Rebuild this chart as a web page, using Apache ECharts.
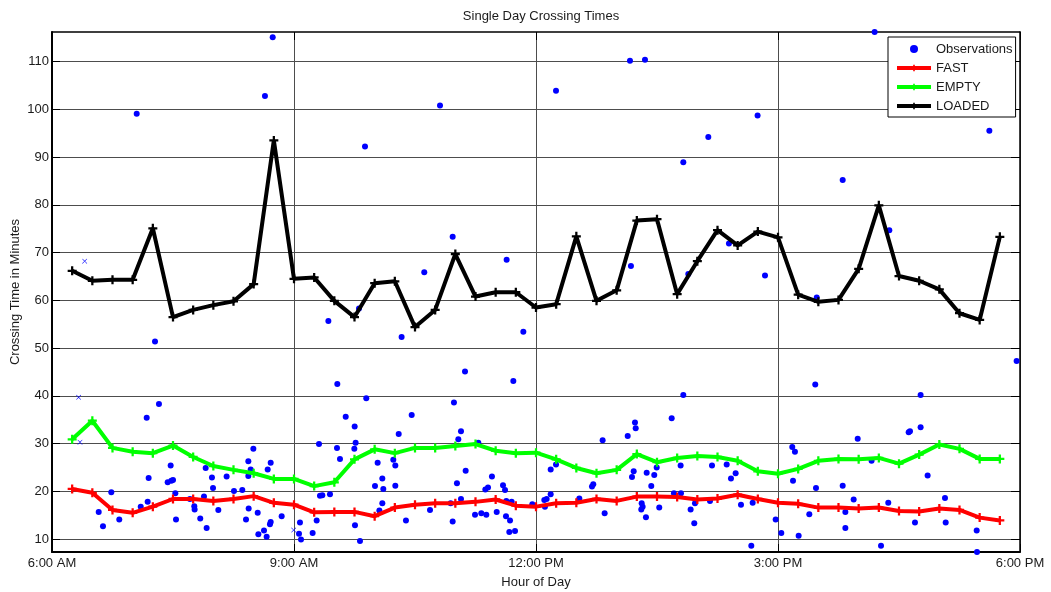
<!DOCTYPE html>
<html>
<head>
<meta charset="utf-8">
<script src="https://cdn.jsdelivr.net/npm/echarts@6/dist/echarts.min.js"></script>
<style>html,body{margin:0;padding:0;background:#fff;}#c{width:1051px;height:592px;}</style>
</head>
<body>
<div id="c"></div>
<script>
// ---- data ----
const xTickHours = [6, 9, 12, 15, 18];
const xTickLabels = ['6:00 AM', '9:00 AM', '12:00 PM', '3:00 PM', '6:00 PM'];
const yTicks = [10, 20, 30, 40, 50, 60, 70, 80, 90, 100, 110];

const binHours = [6.25, 6.5, 6.75, 7, 7.25, 7.5, 7.75, 8, 8.25, 8.5, 8.75, 9, 9.25, 9.5, 9.75, 10,
  10.25, 10.5, 10.75, 11, 11.25, 11.5, 11.75, 12, 12.25, 12.5, 12.75, 13, 13.25, 13.5, 13.75, 14,
  14.25, 14.5, 14.75, 15, 15.25, 15.5, 15.75, 16, 16.25, 16.5, 16.75, 17, 17.25, 17.5, 17.75];

const fastValues = [20.5, 19.7, 16.1, 15.5, 16.8, 18.4, 18.4, 18.0, 18.4, 19.0, 17.6, 17.2, 15.6, 15.7, 15.7, 14.8,
  16.6, 17.2, 17.5, 17.5, 17.8, 18.3, 17.0, 16.8, 17.5, 17.6, 18.4, 18.0, 18.9, 18.9, 18.8, 18.3,
  18.5, 19.3, 18.4, 17.6, 17.4, 16.6, 16.6, 16.4, 16.6, 15.9, 15.8, 16.4, 16.1, 14.5, 13.9];

const emptyValues = [30.9, 34.8, 29.1, 28.3, 28.0, 29.6, 27.2, 25.3, 24.5, 23.8, 22.6, 22.6, 21.1, 21.9, 26.7, 28.8,
  28.0, 29.1, 29.1, 29.5, 29.9, 28.5, 28.0, 28.1, 26.7, 24.9, 23.8, 24.5, 27.8, 26.1, 27.0, 27.4,
  27.2, 26.4, 24.2, 23.7, 24.7, 26.4, 26.8, 26.7, 27.0, 25.8, 27.7, 29.8, 28.9, 26.8, 26.8];

const loadedValues = [66.2, 64.1, 64.3, 64.3, 75.1, 56.5, 58.0, 59.0, 59.8, 63.4, 93.5, 64.5, 64.8, 59.9, 56.5, 63.6,
  64.0, 54.4, 58.0, 69.7, 60.8, 61.7, 61.7, 58.5, 59.2, 73.4, 59.9, 62.1, 76.7, 77.0, 61.3, 68.2,
  74.7, 71.5, 74.4, 73.2, 61.2, 59.7, 60.1, 66.6, 79.9, 65.1, 64.1, 62.3, 57.3, 55.9, 73.3];

const obsHours = [7.05, 8.64, 8.736, 7.277, 6.579, 6.632, 6.735, 6.834, 7.1, 7.174, 7.198, 7.186, 7.326, 7.434, 7.471, 7.479, 7.5,
  7.529, 7.537, 7.71, 7.764, 7.768, 7.838, 7.884, 7.905, 7.917, 7.983, 7.996, 8.062, 8.165, 8.256, 8.359, 8.405,
  8.434, 8.438, 8.463, 8.434, 8.496, 8.55, 8.558, 8.628, 8.661, 8.674, 8.711, 8.702, 8.711, 8.847, 9.074, 9.062,
  9.087, 9.231, 9.281, 9.31, 9.322, 9.351, 9.446, 9.537, 9.533, 9.57, 9.641, 9.752, 9.764, 9.748, 9.756, 9.818,
  9.896, 10.004, 10.037, 10.095, 10.107, 10.095, 10.058, 10.231, 10.256, 10.256, 10.298, 10.388, 10.459, 10.686,
  10.967, 10.942, 10.983, 11.037, 11.07, 11.02, 11.07, 11.128, 11.285, 11.244, 11.322, 11.384, 11.372, 11.405,
  11.454, 11.513, 11.591, 11.616, 11.632, 11.698, 11.628, 11.678, 11.669, 11.74, 11.719, 11.954, 12.103, 12.132,
  12.182, 12.111, 12.182, 12.248, 12.537, 10.967, 10.615, 11.636, 9.806, 9.426, 10.334, 11.843, 11.12, 9.88,
  10.81, 12.248, 13.165, 13.351, 14.747, 14.136, 13.826, 15.802, 13.177, 13.888, 14.392, 14.839, 15.48, 13.826,
  15.462, 16.198, 17.62, 16.38, 17.958, 16.768, 12.826, 12.694, 12.71, 12.851, 13.137, 13.227, 13.236, 13.211,
  13.19, 13.31, 13.322, 13.305, 13.363, 13.372, 13.466, 13.496, 13.429, 13.528, 13.682, 13.71, 13.797, 13.793,
  13.917, 13.971, 13.962, 14.157, 14.182, 14.364, 14.417, 14.475, 14.541, 14.669, 14.686, 14.971, 15.041, 15.177,
  15.21, 15.186, 15.256, 15.388, 15.471, 15.802, 15.835, 15.835, 15.938, 15.988, 16.16, 16.277, 16.367, 16.62,
  16.636, 16.768, 16.698, 16.855, 17.07, 17.079, 17.463, 17.467];
const obsValues = [99.1, 102.8, 115.1, 51.4, 15.7, 12.7, 19.8, 14.1, 16.8, 35.4, 22.8, 17.8, 38.3, 21.9, 25.4, 22.2, 22.4,
  19.6, 14.1, 18.4, 16.9, 16.2, 14.3, 18.9, 24.9, 12.3, 22.9, 20.7, 16.1, 23.1, 20.1, 20.3, 14.1,
  26.3, 16.4, 24.6, 23.2, 28.9, 15.5, 11.0, 11.8, 10.5, 24.6, 26.0, 13.1, 13.6, 14.8, 13.5, 11.1,
  9.9, 11.3, 13.9, 29.9, 19.1, 19.2, 19.4, 42.5, 29.1, 26.8, 35.6, 33.6, 30.2, 28.9, 12.9, 9.6,
  39.5, 21.1, 26.0, 22.7, 20.5, 17.5, 16.0, 26.6, 25.4, 21.2, 32.0, 13.9, 36.0, 16.1,
  13.7, 17.5, 38.6, 30.9, 32.6, 21.7, 18.4, 24.3, 30.2, 15.1, 15.4, 15.1, 20.4, 20.8,
  23.1, 15.7, 21.3, 20.3, 18.0, 17.8, 14.8, 13.9, 11.5, 11.7, 43.1, 17.3, 18.2, 18.4,
  19.4, 16.8, 24.6, 25.6, 18.5, 73.3, 65.9, 68.5, 58.3, 55.7, 52.3, 53.4, 45.1, 92.2,
  100.8, 103.9, 110.2, 110.4, 98.7, 94.2, 88.9, 85.2, 67.2, 65.5, 71.9, 65.2, 60.6, 40.2,
  42.4, 116.2, 95.5, 74.7, 47.3, 40.2, 30.7, 21.0, 21.5, 15.4, 31.6, 34.4, 33.2, 24.2,
  23.0, 17.5, 16.8, 16.2, 14.6, 23.9, 23.4, 25.0, 21.1, 16.6, 35.3, 19.6, 19.6, 25.4,
  16.2, 17.5, 13.3, 18.0, 25.4, 25.6, 22.7, 23.8, 17.2, 8.6, 17.6, 14.1, 11.3, 29.3,
  28.3, 22.2, 10.7, 15.2, 20.7, 21.2, 15.7, 12.3, 18.3, 31.0, 26.4, 8.6, 17.6, 32.4,
  32.6, 33.4, 13.5, 23.3, 18.6, 13.5, 11.8, 7.3];

const outlierHours = [6.405, 6.33, 6.347, 8.996];
const outlierValues = [68.2, 39.7, 30.3, 11.9];

// ---- chart ----
const zip = (a, b) => a.map((v, i) => [v, b[i]]);
const FONT = '"Liberation Sans", Arial, sans-serif';
const TXT = '#1a1a1a';
const plusSym = 'path://M-1,-4H1V-1H4V1H1V4H-1V1H-4V-1H-1Z';
const xSym = 'path://M0,0.8L0.8,0L5,4.2L9.2,0L10,0.8L5.8,5L10,9.2L9.2,10L5,5.8L0.8,10L0,9.2L4.2,5Z';
const yMin = 7.3, yMax = 116.2;
const fmtX = v => { const i = xTickHours.indexOf(v); return i >= 0 ? xTickLabels[i] : ''; };

const chart = echarts.init(document.getElementById('c'), null, {renderer: 'canvas'});
chart.setOption({
  animation: false,
  backgroundColor: '#fff',
  textStyle: {fontFamily: FONT},
  title: {
    text: 'Single Day Crossing Times', left: 536, top: 5, textAlign: 'center',
    textStyle: {fontSize: 13, fontWeight: 'normal', color: TXT, fontFamily: FONT}
  },
  grid: {left: 52, right: 31, top: 32, bottom: 40, containLabel: false, outerBoundsMode: 'none'},
  legend: {
    orient: 'vertical', left: 888, top: 37, padding: [5, 3, 4, 7], itemGap: 5,
    itemWidth: 34, itemHeight: 8,
    borderColor: '#000', borderWidth: 1, backgroundColor: '#fff',
    textStyle: {fontSize: 13, color: TXT, fontFamily: FONT, lineHeight: 14},
    lineStyle: {width: 4},
    data: [
      {name: 'Observations', icon: 'circle'},
      {name: 'FAST'}, {name: 'EMPTY'}, {name: 'LOADED'}
    ]
  },
  xAxis: [{
    type: 'value', min: 6, max: 18, interval: 3,
    name: 'Hour of Day', nameLocation: 'middle', nameGap: 24, nameMoveOverlap: false,
    nameTextStyle: {fontSize: 13, color: TXT, fontFamily: FONT},
    axisLine: {lineStyle: {color: '#000', width: 2}},
    axisTick: {inside: true, length: 8, lineStyle: {color: '#000'}},
    axisLabel: {formatter: fmtX, fontSize: 13, color: TXT, margin: 5, fontFamily: FONT},
    splitLine: {show: true, lineStyle: {color: '#4d4d4d', width: 1}}
  }, {
    type: 'value', min: 6, max: 18, interval: 3, position: 'top',
    axisLine: {lineStyle: {color: '#000', width: 1.5}},
    axisTick: {inside: true, length: 8, lineStyle: {color: '#000'}},
    axisLabel: {show: false}, splitLine: {show: false}
  }],
  yAxis: [{
    type: 'value', min: yMin, max: yMax,
    name: 'Crossing Time in Minutes', nameLocation: 'middle', nameGap: 30, nameMoveOverlap: false,
    nameTextStyle: {fontSize: 13, color: TXT, fontFamily: FONT},
    axisLine: {show: true, lineStyle: {color: '#000', width: 2}},
    axisTick: {show: true, inside: true, length: 8, customValues: yTicks, lineStyle: {color: '#000'}},
    axisLabel: {customValues: yTicks, fontSize: 13, color: TXT, margin: 3, fontFamily: FONT},
    splitLine: {show: true, lineStyle: {color: '#4d4d4d', width: 1}}
  }, {
    type: 'value', min: yMin, max: yMax, position: 'right',
    axisLine: {show: true, lineStyle: {color: '#000', width: 1.5}},
    axisTick: {show: true, inside: true, length: 9, customValues: yTicks, lineStyle: {color: '#000'}},
    axisLabel: {show: false}, splitLine: {show: false}
  }],
  series: [{
    name: 'Observations', type: 'scatter', data: zip(obsHours, obsValues),
    symbol: 'circle', symbolSize: 6, itemStyle: {color: '#0000ff', opacity: 1}, z: 2
  }, {
    name: 'Outliers', type: 'scatter', data: zip(outlierHours, outlierValues),
    symbol: xSym, symbolSize: 5, itemStyle: {color: '#0000ff', opacity: 1}, z: 2
  }, {
    name: 'FAST', type: 'line', data: zip(binHours, fastValues),
    symbol: plusSym, symbolSize: 9, showAllSymbol: true,
    lineStyle: {color: '#ff0000', width: 4}, itemStyle: {color: '#ff0000'}, z: 3
  }, {
    name: 'EMPTY', type: 'line', data: zip(binHours, emptyValues),
    symbol: plusSym, symbolSize: 9, showAllSymbol: true,
    lineStyle: {color: '#00ff00', width: 4}, itemStyle: {color: '#00ff00'}, z: 3
  }, {
    name: 'LOADED', type: 'line', data: zip(binHours, loadedValues),
    symbol: plusSym, symbolSize: 9, showAllSymbol: true,
    lineStyle: {color: '#000000', width: 4}, itemStyle: {color: '#000000'}, z: 3
  }]
});
</script>
</body>
</html>
